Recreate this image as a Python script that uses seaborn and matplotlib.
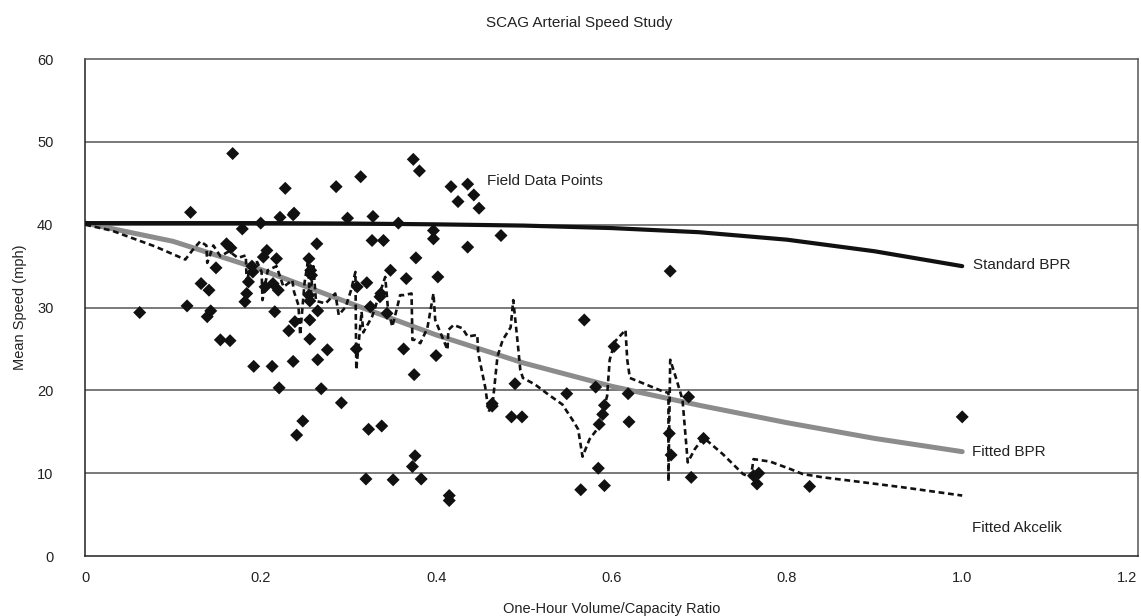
import matplotlib
matplotlib.use("Agg")
import matplotlib.pyplot as plt
import seaborn as sns

# field data points (v/c ratio, mean speed mph)
vc_ratio = [0.062, 0.116, 0.120, 0.132, 0.139, 0.141, 0.143, 0.149, 0.154, 0.161,
            0.165, 0.166, 0.168, 0.179, 0.182, 0.184, 0.186, 0.190, 0.191, 0.192,
            0.200, 0.203, 0.205, 0.207, 0.213, 0.214, 0.216, 0.218, 0.220, 0.221,
            0.222, 0.228, 0.232, 0.237, 0.237, 0.238, 0.239, 0.241, 0.248, 0.255,
            0.255, 0.256, 0.256, 0.256, 0.257, 0.258, 0.264, 0.265, 0.265, 0.269,
            0.276, 0.286, 0.292, 0.299, 0.309, 0.310, 0.314, 0.320, 0.321, 0.323,
            0.325, 0.327, 0.328, 0.336, 0.337, 0.338, 0.340, 0.344, 0.348, 0.351,
            0.357, 0.363, 0.366, 0.373, 0.374, 0.375, 0.376, 0.377, 0.381, 0.383,
            0.397, 0.397, 0.400, 0.402, 0.415, 0.415, 0.417, 0.425, 0.436, 0.443,
            0.449, 0.436, 0.474, 0.464, 0.464, 0.486, 0.490, 0.498, 0.549, 0.565,
            0.569, 0.582, 0.585, 0.586, 0.590, 0.592, 0.592, 0.603, 0.619, 0.620,
            0.667, 0.666, 0.668, 0.688, 0.691, 0.705, 0.762, 0.768, 0.766, 0.826,
            1.000]
speed = [29.4, 30.2, 41.5, 32.9, 28.9, 32.1, 29.6, 34.8, 26.1, 37.7,
         26.0, 37.2, 48.6, 39.5, 30.7, 31.7, 33.1, 35.0, 34.3, 22.9,
         40.2, 36.1, 32.5, 36.9, 22.9, 32.9, 29.5, 35.9, 32.1, 20.3,
         40.9, 44.4, 27.2, 41.2, 23.5, 41.4, 28.3, 14.6, 16.3, 35.9,
         31.5, 30.8, 28.5, 26.2, 34.5, 33.9, 37.7, 29.6, 23.7, 20.2,
         24.9, 44.6, 18.5, 40.8, 25.0, 32.5, 45.8, 9.3, 33.0, 15.3,
         30.1, 38.1, 41.0, 31.3, 31.7, 15.7, 38.1, 29.3, 34.5, 9.2,
         40.2, 25.0, 33.5, 10.8, 47.9, 21.9, 12.1, 36.0, 46.5, 9.3,
         39.3, 38.3, 24.2, 33.7, 7.3, 6.7, 44.6, 42.8, 44.9, 43.6,
         42.0, 37.3, 38.7, 18.4, 18.1, 16.8, 20.8, 16.8, 19.6, 8.0,
         28.5, 20.4, 10.6, 15.9, 17.1, 18.2, 8.5, 25.3, 19.6, 16.2,
         34.4, 14.8, 12.2, 19.2, 9.5, 14.2, 9.7, 10.0, 8.7, 8.4,
         16.8]

# model curves
curve_vc = [0.0, 0.1, 0.2, 0.3, 0.4, 0.5, 0.6, 0.7, 0.8, 0.9, 1.0]
standard_bpr = [40.2, 40.2, 40.2, 40.15, 40.05, 39.9, 39.6, 39.1, 38.2, 36.8, 35.0]
fitted_bpr = [40.2, 38.0, 34.6, 30.6, 26.7, 23.3, 20.5, 18.2, 16.1, 14.2, 12.6]

akcelik_vc = [0.000, 0.030, 0.079, 0.114, 0.122, 0.131, 0.138, 0.139, 0.146, 0.154,
              0.164, 0.174, 0.183, 0.184, 0.188, 0.196, 0.201, 0.202, 0.208, 0.218,
              0.226, 0.236, 0.238, 0.243, 0.245, 0.250, 0.254, 0.256, 0.260, 0.263,
              0.274, 0.285, 0.289, 0.297, 0.303, 0.308, 0.309, 0.315, 0.317, 0.327,
              0.336, 0.342, 0.345, 0.350, 0.353, 0.359, 0.363, 0.372, 0.373, 0.376,
              0.382, 0.390, 0.397, 0.399, 0.413, 0.414, 0.420, 0.430, 0.436, 0.447,
              0.448, 0.456, 0.460, 0.465, 0.470, 0.476, 0.485, 0.488, 0.493, 0.496,
              0.499, 0.513, 0.528, 0.544, 0.557, 0.562, 0.567, 0.575, 0.585, 0.591,
              0.595, 0.598, 0.604, 0.616, 0.618, 0.621, 0.635, 0.658, 0.665, 0.665,
              0.667, 0.673, 0.681, 0.687, 0.695, 0.705, 0.727, 0.750, 0.759, 0.762,
              0.781, 0.804, 0.818, 0.841, 0.872, 0.932, 1.000]
akcelik_speed = [40.0, 39.3, 37.4, 35.8, 36.9, 38.0, 37.5, 35.4, 37.5, 36.2,
                 36.8, 36.0, 36.3, 33.0, 35.0, 35.5, 34.3, 30.9, 34.5, 35.0,
                 32.5, 33.3, 31.9, 30.3, 26.7, 33.0, 35.7, 30.5, 35.0, 30.8,
                 30.5, 31.7, 29.1, 30.1, 32.1, 34.3, 22.5, 29.5, 27.0, 28.9,
                 31.8, 33.7, 30.0, 27.7, 28.9, 31.5, 31.5, 31.7, 26.1, 26.1,
                 25.7, 27.5, 31.7, 28.5, 24.9, 27.3, 27.9, 27.5, 26.5, 26.7,
                 24.5, 20.4, 17.4, 18.9, 24.1, 26.1, 27.6, 30.9, 25.8, 22.5,
                 21.5, 20.7, 19.5, 18.3, 16.2, 15.3, 12.0, 14.1, 15.5, 17.7,
                 19.3, 23.7, 25.9, 27.3, 23.7, 21.5, 20.9, 19.9, 19.7, 9.0,
                 23.7, 21.7, 18.9, 11.3, 12.9, 14.3, 12.3, 9.9, 9.5, 11.7,
                 11.4, 10.5, 9.9, 9.5, 9.1, 8.3, 7.3]

sns.set_style("white")
plt.rcParams['font.family'] = ['Liberation Sans', 'DejaVu Sans']

fig = plt.figure(figsize=(11.41, 6.16), dpi=100)
ax = fig.add_axes([0.0748, 0.0974, 0.9222, 0.8066])

for yv in [10, 20, 30, 40, 50]:
    ax.axhline(yv, color='#555555', lw=1.1, zorder=0)

sns.lineplot(x=curve_vc, y=fitted_bpr, ax=ax, color='#8c8c8c', lw=3.6,
             sort=False, estimator=None, zorder=2)
sns.lineplot(x=akcelik_vc, y=akcelik_speed, ax=ax, color='#111111', lw=1.9,
             sort=False, estimator=None, zorder=3, dashes=False)
ax.lines[-1].set_dashes([2.2, 1.4])
sns.lineplot(x=curve_vc, y=standard_bpr, ax=ax, color='#111111', lw=3.0,
             sort=False, estimator=None, zorder=4)
sns.scatterplot(x=vc_ratio, y=speed, ax=ax, marker='D', s=44, color='#111111',
                edgecolor='none', zorder=5)

ax.set_xlim(0, 1.2)
ax.set_ylim(0, 60)
ax.set_xticks([0, 0.2, 0.4, 0.6, 0.8, 1.0, 1.2])
ax.set_xticklabels(['0', '0.2', '0.4', '0.6', '0.8', '1.0', '1.2'])
ax.set_yticks([0, 10, 20, 30, 40, 50, 60])
ax.tick_params(axis='both', direction='out', length=5, width=1, color='#333333',
               labelsize=10.5, labelcolor='#222222')
ax.tick_params(axis='x', pad=6)
ax.tick_params(axis='y', pad=18)
ax.get_xticklabels()[-1].set_horizontalalignment('right')
ax.get_xticklabels()[-1].set_x(1.2)

for side in ['left', 'bottom']:
    ax.spines[side].set_color('#222222')
    ax.spines[side].set_linewidth(1.1)
for side in ['top', 'right']:
    ax.spines[side].set_color('#555555')
    ax.spines[side].set_linewidth(1.1)

ax.set_xlabel('One-Hour Volume/Capacity Ratio', fontsize=10.5, color='#222222',
              labelpad=12)
ax.set_ylabel('Mean Speed (mph)', fontsize=10.5, color='#222222', labelpad=7)

fig.text(0.508, 0.962, 'SCAG Arterial Speed Study', ha='center', va='center',
         fontsize=11, color='#222222')

ax.text(0.458, 45.3, 'Field Data Points', fontsize=11, va='center', color='#222222')
ax.text(1.012, 35.1, 'Standard BPR', fontsize=11, va='center', color='#222222')
ax.text(1.011, 12.6, 'Fitted BPR', fontsize=11, va='center', color='#222222')
ax.text(1.011, 3.4, 'Fitted Akcelik', fontsize=11, va='center', color='#222222')

fig.savefig('out.png', dpi=100)
